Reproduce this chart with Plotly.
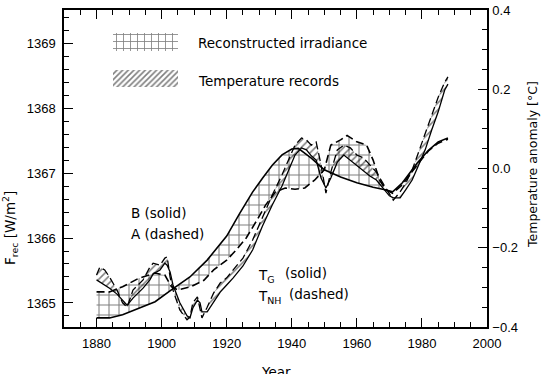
import plotly.graph_objects as go

# ---------------- data ----------------
# Reconstructed irradiance, model B (solid) [W/m^2]
IRR_B_YEARS = [1880, 1884, 1888, 1893, 1898, 1903, 1908.7, 1914, 1917.4, 1920, 1924, 1928,
               1931, 1934, 1937, 1940, 1942, 1946, 1950, 1955, 1960, 1965, 1969, 1971,
               1974, 1978.5, 1982, 1985, 1988]
IRR_B = [1364.77, 1364.77, 1364.82, 1364.92, 1365.02, 1365.20, 1365.40, 1365.66, 1365.86,
         1366.03, 1366.38, 1366.71, 1366.92, 1367.12, 1367.28, 1367.37, 1367.38, 1367.23,
         1367.05, 1366.94, 1366.85, 1366.78, 1366.74, 1366.71, 1366.85, 1367.15, 1367.35,
         1367.48, 1367.54]

# Reconstructed irradiance, model A (dashed) [W/m^2]
IRR_A_YEARS = [1880, 1884, 1888, 1893, 1898, 1901, 1903, 1905, 1909, 1913, 1916, 1920,
               1923, 1926, 1929, 1932, 1935, 1938, 1941, 1944, 1947, 1950, 1952, 1955,
               1957, 1960, 1963, 1965, 1967, 1969, 1971, 1974, 1978, 1982, 1985, 1988]
IRR_A = [1365.17, 1365.17, 1365.25, 1365.38, 1365.46, 1365.43, 1365.25, 1365.20, 1365.25,
         1365.35, 1365.51, 1365.66, 1365.82, 1366.00, 1366.25, 1366.51, 1366.71, 1366.77,
         1366.75, 1366.77, 1366.89, 1367.05, 1367.43, 1367.51, 1367.58, 1367.48, 1367.43,
         1367.20, 1366.89, 1366.74, 1366.69, 1366.82, 1367.09, 1367.34, 1367.46, 1367.52]

# Temperature anomaly records [deg C]
TEMP_YEARS = [1880, 1881, 1882.5, 1884, 1886.3, 1888, 1889.4, 1891.2, 1894.3, 1896.4,
              1897.4, 1899.5, 1901, 1901.7, 1902.6, 1903.5, 1905.6, 1907.8, 1908.7, 1909.6,
              1911, 1911.8, 1912.4, 1914, 1916, 1918, 1920, 1922, 1925, 1928, 1931, 1934,
              1937, 1939, 1941, 1943, 1944.5, 1946, 1947.5, 1949, 1950.5, 1952, 1954, 1956,
              1958, 1960, 1962, 1964, 1966, 1968, 1970, 1971.2, 1973.3, 1975, 1977, 1979,
              1981, 1983, 1985, 1987, 1988]
T_NH = [-0.269, -0.249, -0.256, -0.274, -0.307, -0.339, -0.350, -0.307, -0.281, -0.249,
        -0.239, -0.244, -0.226, -0.223, -0.274, -0.307, -0.357, -0.382, -0.375, -0.339,
        -0.324, -0.350, -0.377, -0.350, -0.314, -0.289, -0.276, -0.256, -0.226, -0.180,
        -0.122, -0.067, -0.016, 0.021, 0.059, 0.077, 0.072, 0.059, 0.067, 0.009,
        -0.062, -0.009, 0.047, 0.059, 0.052, 0.034, 0.027, 0.009, -0.009, -0.037,
        -0.062, -0.080, -0.059, -0.037, -0.004, 0.042, 0.085, 0.135, 0.180, 0.218, 0.231]
T_G = [-0.281, -0.286, -0.294, -0.302, -0.317, -0.332, -0.345, -0.327, -0.302, -0.281,
       -0.266, -0.256, -0.239, -0.244, -0.261, -0.294, -0.339, -0.372, -0.377, -0.352,
       -0.332, -0.339, -0.362, -0.362, -0.337, -0.312, -0.294, -0.276, -0.246, -0.205,
       -0.145, -0.092, -0.044, -0.004, 0.034, 0.052, 0.047, 0.032, 0.021, -0.024,
       -0.049, -0.024, 0.016, 0.034, 0.021, 0.009, -0.004, -0.019, -0.029, -0.049,
       -0.069, -0.074, -0.074, -0.054, -0.029, 0.009, 0.047, 0.097, 0.143, 0.198, 0.213]

LEGEND_LABELS = ["Reconstructed irradiance", "Temperature records"]

# ---------------- layout geometry (pixels) ----------------
W, H = 542, 374
L, R, T, B = 64, 55, 10, 47
PW, PH = W - L - R, H - T - B


def px(xp):
    return (xp - L) / PW


def py(yp):
    return (H - B - yp) / PH


TEXT_FONT = "DejaVu Sans"
TICK_FONT = "Liberation Sans"

plus_pat = dict(shape="+", size=10, solidity=0.2, fgcolor="black",
                bgcolor="rgba(0,0,0,0)", fillmode="overlay")
hatch_pat = dict(shape="/", size=5, solidity=0.32, fgcolor="black",
                 bgcolor="rgba(0,0,0,0)", fillmode="overlay")

fig = go.Figure()

# irradiance band
fig.add_trace(go.Scatter(x=IRR_B_YEARS, y=IRR_B, mode="lines",
                         line=dict(width=0, color="rgba(0,0,0,0)"),
                         showlegend=False, hoverinfo="skip"))
fig.add_trace(go.Scatter(x=IRR_A_YEARS, y=IRR_A, mode="lines",
                         line=dict(width=0, color="rgba(0,0,0,0)"),
                         fill="tonexty", fillcolor="rgba(0,0,0,0)",
                         fillpattern=plus_pat, showlegend=False, hoverinfo="skip"))
# temperature band
fig.add_trace(go.Scatter(x=TEMP_YEARS, y=T_G, yaxis="y2", mode="lines",
                         line=dict(width=0, color="rgba(0,0,0,0)"),
                         showlegend=False, hoverinfo="skip"))
fig.add_trace(go.Scatter(x=TEMP_YEARS, y=T_NH, yaxis="y2", mode="lines",
                         line=dict(width=0, color="rgba(0,0,0,0)"),
                         fill="tonexty", fillcolor="rgba(0,0,0,0)",
                         fillpattern=hatch_pat, showlegend=False, hoverinfo="skip"))

# boundary lines
fig.add_trace(go.Scatter(x=IRR_B_YEARS, y=IRR_B, mode="lines",
                         line=dict(color="black", width=1.6), showlegend=False))
fig.add_trace(go.Scatter(x=IRR_A_YEARS, y=IRR_A, mode="lines",
                         line=dict(color="black", width=1.6, dash="8px,4px"), showlegend=False))
fig.add_trace(go.Scatter(x=TEMP_YEARS, y=T_G, yaxis="y2", mode="lines",
                         line=dict(color="black", width=1.3), showlegend=False))
fig.add_trace(go.Scatter(x=TEMP_YEARS, y=T_NH, yaxis="y2", mode="lines",
                         line=dict(color="black", width=1.3, dash="8px,4px"), showlegend=False))

# legend swatches on an auxiliary 0..1 frame
sw_x0, sw_x1 = px(113), px(178)
swatches = [(py(51), py(33), dict(plus_pat, size=7, solidity=0.22)),
            (py(87), py(70), dict(hatch_pat, size=4, solidity=0.4))]
for (y0, y1, pat) in swatches:
    fig.add_trace(go.Scatter(x=[sw_x0, sw_x1, sw_x1, sw_x0, sw_x0],
                             y=[y0, y0, y1, y1, y0], xaxis="x2", yaxis="y3",
                             mode="lines", line=dict(width=0, color="rgba(0,0,0,0)"),
                             fill="toself", fillcolor="rgba(0,0,0,0)", fillpattern=pat,
                             showlegend=False, hoverinfo="skip"))

ann = []
txt = dict(family=TEXT_FONT, size=13.5, color="black")
ann.append(dict(x=px(196), y=py(43), text=LEGEND_LABELS[0], xanchor="left", yanchor="middle"))
ann.append(dict(x=px(196), y=py(81), text=LEGEND_LABELS[1], xanchor="left", yanchor="middle"))
ann.append(dict(x=px(129), y=py(213), text="B (solid)", xanchor="left", yanchor="middle"))
ann.append(dict(x=px(129), y=py(234), text="A (dashed)", xanchor="left", yanchor="middle"))
ann.append(dict(x=px(256), y=py(276), text="T<sub>G</sub>", xanchor="left", yanchor="middle"))
ann.append(dict(x=px(283), y=py(273), text="(solid)", xanchor="left", yanchor="middle"))
ann.append(dict(x=px(256), y=py(297), text="T<sub>NH</sub>", xanchor="left", yanchor="middle"))
ann.append(dict(x=px(287), y=py(294), text="(dashed)", xanchor="left", yanchor="middle"))
ann.append(dict(x=px(275.5), y=py(362), text="Year", xanchor="center", yanchor="top"))
ann.append(dict(x=px(532), y=py(165), text="Temperature anomaly [°C]", textangle=-90,
                xanchor="center", yanchor="middle", font=dict(family=TEXT_FONT, size=12.5, color="black")))
ann.append(dict(x=px(10), y=py(228), text="F<sub>rec</sub> [W/m<sup>2</sup>]", textangle=-90,
                xanchor="center", yanchor="middle"))
for a in ann:
    a.setdefault("font", txt)
    a.update(xref="paper", yref="paper", showarrow=False)

axis_common = dict(showline=True, linecolor="black", linewidth=1.5, ticks="inside",
                   ticklen=9, tickwidth=1.4, tickcolor="black", showgrid=False,
                   zeroline=False, automargin=False,
                   tickfont=dict(family=TICK_FONT, size=13, color="black"))
minor_common = dict(ticks="inside", ticklen=5, tickwidth=1.4, tickcolor="black", showgrid=False)

fig.update_layout(
    width=W, height=H, autosize=False,
    margin=dict(l=L, r=R, t=T, b=B, pad=0),
    paper_bgcolor="white", plot_bgcolor="white",
    showlegend=False,
    annotations=ann,
    xaxis=dict(axis_common, range=[1870, 2000], tick0=1880, dtick=20, mirror="ticks",
               ticklabelstandoff=4, minor=dict(minor_common, dtick=5)),
    yaxis=dict(axis_common, range=[1364.63, 1369.51], tick0=1365, dtick=1,
               ticklabelstandoff=4, minor=dict(minor_common, dtick=0.2)),
    yaxis2=dict(axis_common, overlaying="y", side="right", anchor="x", range=[-0.4, 0.4],
                tick0=0, dtick=0.2, tickformat=".1f", ticklabelstandoff=1,
                minor=dict(minor_common, dtick=0.05)),
    xaxis2=dict(overlaying="x", anchor="y3", range=[0, 1], visible=False, fixedrange=True,
                automargin=False),
    yaxis3=dict(overlaying="y", anchor="x2", range=[0, 1], visible=False, fixedrange=True,
                automargin=False),
)

fig.write_html("out.html", config={"displayModeBar": False},
               post_script="document.body.style.margin='0px';document.body.style.overflow='hidden';")
